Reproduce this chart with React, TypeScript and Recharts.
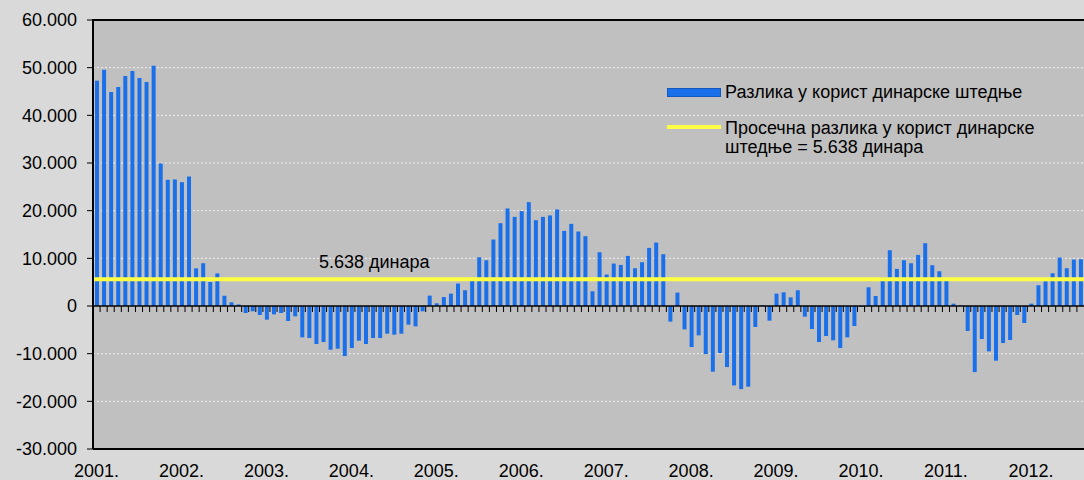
import React from 'react';
import { BarChart, Bar, XAxis, YAxis, CartesianGrid, ReferenceLine, Legend } from 'recharts';

// monthly difference in favour of dinar savings, Jan 2001 - Aug 2012
const years = ['2001', '2002', '2003', '2004', '2005', '2006', '2007', '2008', '2009', '2010', '2011', '2012'];
const v2001 = [47270, 49580, 44900, 45950, 48260, 49300, 47840, 47000, 50420, 29900, 26470, 26550];
const v2002 = [25990, 27180, 7900, 8970, 5040, 6840, 2150, 780, 330, -1470, -1110, -1890];
const v2003 = [-2870, -1750, -1470, -3150, -2170, -6580, -6720, -7980, -7560, -9170, -8960, -10500];
const v2004 = [-8820, -7280, -7980, -6720, -6720, -5810, -6020, -5810, -3920, -4270, -1110, 2180];
const v2005 = [570, 1890, 2600, 4700, 3300, 5250, 10230, 9600, 13950, 17370, 20460, 18700];
const v2006 = [19900, 21790, 18000, 18700, 19000, 20250, 15760, 17230, 15630, 14640, 3090, 11280];
const v2007 = [6590, 8900, 8620, 10500, 7920, 9180, 12190, 13310, 10860, -3280, 2810, -4900];
const v2008 = [-8610, -6160, -10080, -13790, -9870, -12810, -16660, -17440, -16930, -4410, 150, -3080];
const v2009 = [2600, 2870, 1820, 3300, -2240, -4830, -7560, -6300, -7200, -8820, -6580, -4200];
const v2010 = [-200, 3930, 2100, 5960, 11700, 7780, 9600, 8970, 10720, 13170, 8550, 7290];
const v2011 = [5820, 490, 140, -5250, -13870, -6930, -9520, -11470, -7770, -7140, -1890, -3570];
const v2012 = [490, 4350, 5190, 6870, 10170, 7920, 9750, 9810];
const monthly = [v2001, v2002, v2003, v2004, v2005, v2006, v2007, v2008, v2009, v2010, v2011, v2012];

const average = 5638;
const yTicks = [-30000, -20000, -10000, 0, 10000, 20000, 30000, 40000, 50000, 60000];

const barName = 'Разлика у корист динарске штедње';
const avgName = ['Просечна разлика у корист динарске', 'штедње = 5.638 динара'];
const avgLabel = '5.638 динара';

const data = years.flatMap((yr, yi) =>
  monthly[yi].map((value, m) => ({ month: `${m + 1}.${yr}`, value }))
);

const fmtThousands = (v: number) =>
  (v < 0 ? '-' : '') + String(Math.abs(v)).replace(/\B(?=(\d{3})+(?!\d))/g, '.');

const yearLabel = (key: string) => {
  const [m, yr] = key.split('.');
  return m === '1' ? `${yr}.` : '';
};

const BLUE = '#1a6fea';
const YELLOW = '#ffff44';

// zero line with a small tick at every month boundary
const ZeroAxis = (props: any) => {
  const { x1, x2, y1 } = props;
  const step = (x2 - x1) / data.length;
  return (
    <g>
      <line x1={x1} x2={x2} y1={y1} y2={y1} stroke="#000" strokeWidth={1.5} />
      {data.map((_, i) => (
        <line key={i} x1={x1 + step * i} x2={x1 + step * i} y1={y1} y2={y1 + 6} stroke="#000" strokeWidth={1} />
      ))}
    </g>
  );
};

const AvgLabel = (props: any) => {
  const { viewBox } = props;
  return (
    <text x={viewBox.x + 226} y={viewBox.y - 11} fontSize={18} fill="#000">
      {avgLabel}
    </text>
  );
};

const LegendBox = () => (
  <div style={{ position: 'relative', width: 417, height: 80, fontSize: 18, lineHeight: '18.5px', color: '#000' }}>
    <div style={{ position: 'absolute', left: 0, top: 8, width: 52, height: 7, background: BLUE, border: '1px solid #1458c0' }} />
    <div style={{ position: 'absolute', left: 58, top: 3, whiteSpace: 'nowrap' }}>{barName}</div>
    <div style={{ position: 'absolute', left: 0, top: 45, width: 54, height: 4, background: YELLOW }} />
    <div style={{ position: 'absolute', left: 58, top: 39, whiteSpace: 'nowrap' }}>
      {avgName[0]}
      <br />
      {avgName[1]}
    </div>
  </div>
);

export default function App() {
  return (
    <div
      style={{
        position: 'absolute',
        left: 0,
        top: 0,
        width: 1084,
        height: 480,
        background: '#d9d9d9',
        fontFamily: 'Arial, "Liberation Sans", sans-serif',
      }}
    >
      <BarChart width={1084} height={480} data={data} margin={{ top: 20, right: 0, left: 0, bottom: 0 }}>
        <CartesianGrid vertical={false} fill="#c0c0c0" stroke="#f0f0f0" strokeDasharray="2 2" />
        <XAxis
          dataKey="month"
          interval={0}
          height={31}
          tickLine={false}
          tickSize={0}
          tickMargin={15}
          axisLine={{ stroke: '#000', strokeWidth: 2 }}
          tick={{ fill: '#000', fontSize: 18 }}
          tickFormatter={yearLabel}
        />
        <YAxis
          width={93}
          domain={[-30000, 60000]}
          ticks={yTicks}
          interval={0}
          tickSize={6}
          tickMargin={10}
          axisLine={{ stroke: '#000', strokeWidth: 2 }}
          tickLine={{ stroke: '#000' }}
          tick={{ fill: '#000', fontSize: 18 }}
          tickFormatter={fmtThousands}
        />
        <Legend
          layout="vertical"
          align="center"
          verticalAlign="middle"
          wrapperStyle={{ left: 667, top: 80, width: 417 }}
          content={() => <LegendBox />}
        />
        <Bar dataKey="value" name={barName} fill={BLUE} barSize={4} isAnimationActive={false} />
        <ReferenceLine y={0} shape={ZeroAxis} />
        <ReferenceLine y={average} stroke={YELLOW} strokeWidth={4} label={AvgLabel} />
      </BarChart>
      {/* top edge of the plot frame */}
      <div style={{ position: 'absolute', left: 92, top: 19, width: 992, height: 2, background: '#000' }} />
    </div>
  );
}
